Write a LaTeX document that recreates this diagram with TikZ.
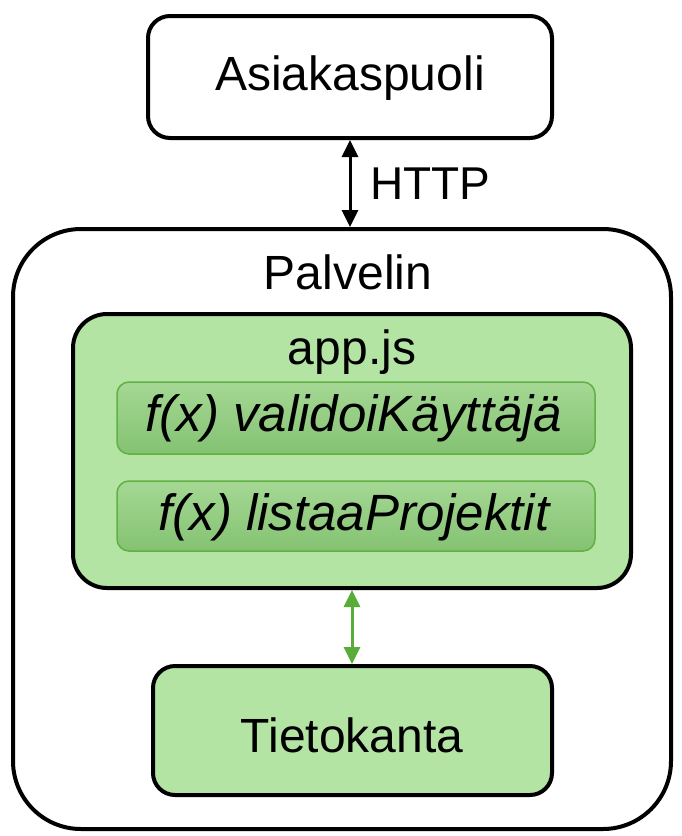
\documentclass[tikz,border=0pt]{standalone}
\usepackage{fontspec}
\setmainfont{Liberation Sans}
\usetikzlibrary{arrows.meta}
\definecolor{lgreen}{RGB}{180,228,164}
\definecolor{ftop}{RGB}{165,216,148}
\definecolor{fbot}{RGB}{132,194,114}
\definecolor{fborder}{RGB}{96,176,66}
\definecolor{agreen}{RGB}{88,172,56}
\tikzset{
  blackbox/.style={draw=black, line width=4pt, rounded corners=22pt},
  fnbox/.style={draw=fborder, line width=1.5pt, rounded corners=12pt, top color=ftop, bottom color=fbot},
  lbl/.style={font=\fontsize{48}{54}\selectfont, inner sep=0pt},
  fnlbl/.style={font=\fontsize{51}{56}\selectfont\itshape, inner sep=0pt},
  dbl/.style={{Triangle[length=17pt,width=16pt]}-{Triangle[length=17pt,width=16pt]}, line width=3pt}
}
\begin{document}
\begin{tikzpicture}[x=1pt,y=-1pt]
\useasboundingbox (0,0) rectangle (681,836);
% top box
\draw[blackbox, fill=white] (148,16) rectangle (552,138);
\node[lbl] (asi) at (350,78) {Asiakaspuoli};
\coordinate (asib) at (350,140);
% outer server box
\draw[draw=black, line width=4pt, rounded corners=68pt, fill=white] (13,229) rectangle (671,829);
\coordinate (palt) at (350,227);
\node[lbl] (pal) at (348,272) {Palvelin};
% app.js box
\draw[blackbox, fill=lgreen, rounded corners=34pt] (73,314) rectangle (631,588);
\node[lbl] (app) at (352,352) {app.js};
\coordinate (appb) at (352,590);
\draw[fnbox] (117,382) rectangle (595,454);
\node[fnlbl] (f1) at (354,418) {f(x) validoiKäyttäjä};
\draw[fnbox] (117,481) rectangle (595,551);
\node[fnlbl] (f2) at (354,517) {f(x) listaaProjektit};
% database
\draw[blackbox, fill=lgreen] (153,666) rectangle (552,795);
\node[lbl] (db) at (352,735) {Tietokanta};
\coordinate (dbt) at (352,664);
% arrows
\draw[dbl, draw=black, fill=black] (asib) -- (palt);
\node[lbl, font=\fontsize{46}{52}\selectfont, anchor=west] (http) at (370,184) {HTTP};
\draw[dbl, draw=agreen, fill=agreen] (appb) -- (dbt);
\end{tikzpicture}
\end{document}
